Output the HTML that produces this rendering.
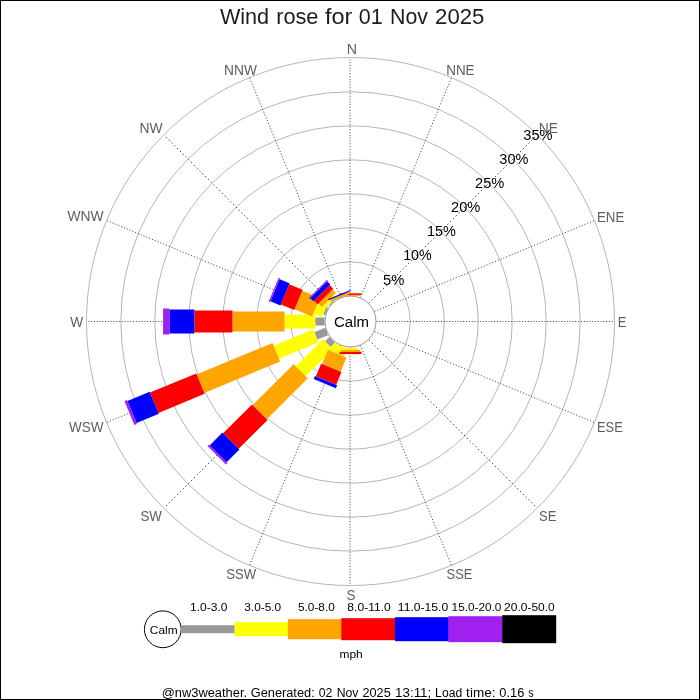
<!DOCTYPE html>
<html lang="en"><head><meta charset="utf-8"><title>Wind rose for 01 Nov 2025</title>
<style>html,body{margin:0;padding:0;background:#fff;width:700px;height:700px;overflow:hidden;}svg{display:block;will-change:transform;}text{font-family:"Liberation Sans",sans-serif;white-space:pre;}</style></head><body>
<svg width="700" height="700" viewBox="0 0 700 700">
<rect x="0" y="0" width="700" height="700" fill="#ffffff"/>
<g fill="none" stroke="#adadad" stroke-width="0.9">
<circle cx="350.5" cy="321.5" r="59.70"/>
<circle cx="350.5" cy="321.5" r="93.70"/>
<circle cx="350.5" cy="321.5" r="127.70"/>
<circle cx="350.5" cy="321.5" r="161.70"/>
<circle cx="350.5" cy="321.5" r="195.70"/>
<circle cx="350.5" cy="321.5" r="229.70"/>
<circle cx="350.5" cy="321.5" r="264.00"/>
</g>
<line x1="350.00" y1="295.50" x2="350.00" y2="58.00" stroke="#2b2b2b" stroke-width="0.9" stroke-dasharray="1.00 1.80"/>
<line x1="360.45" y1="297.48" x2="451.34" y2="78.06" stroke="#2b2b2b" stroke-width="0.9" stroke-dasharray="1.08 1.95"/>
<line x1="368.88" y1="303.12" x2="536.82" y2="135.18" stroke="#2b2b2b" stroke-width="0.9" stroke-dasharray="1.41 2.55"/>
<line x1="374.52" y1="311.55" x2="593.94" y2="220.66" stroke="#2b2b2b" stroke-width="0.9" stroke-dasharray="1.08 1.95"/>
<line x1="376.50" y1="321.50" x2="614.00" y2="321.50" stroke="#2b2b2b" stroke-width="0.9" stroke-dasharray="1.00 1.80"/>
<line x1="374.52" y1="331.45" x2="593.94" y2="422.34" stroke="#2b2b2b" stroke-width="0.9" stroke-dasharray="1.08 1.95"/>
<line x1="368.88" y1="339.88" x2="536.82" y2="507.82" stroke="#2b2b2b" stroke-width="0.9" stroke-dasharray="1.41 2.55"/>
<line x1="360.45" y1="345.52" x2="451.34" y2="564.94" stroke="#2b2b2b" stroke-width="0.9" stroke-dasharray="1.08 1.95"/>
<line x1="350.00" y1="347.50" x2="350.00" y2="585.00" stroke="#2b2b2b" stroke-width="0.9" stroke-dasharray="1.00 1.80"/>
<line x1="340.55" y1="345.52" x2="249.66" y2="564.94" stroke="#2b2b2b" stroke-width="0.9" stroke-dasharray="1.08 1.95"/>
<line x1="332.12" y1="339.88" x2="164.18" y2="507.82" stroke="#2b2b2b" stroke-width="0.9" stroke-dasharray="1.41 2.55"/>
<line x1="326.48" y1="331.45" x2="107.06" y2="422.34" stroke="#2b2b2b" stroke-width="0.9" stroke-dasharray="1.08 1.95"/>
<line x1="324.50" y1="321.50" x2="87.00" y2="321.50" stroke="#2b2b2b" stroke-width="0.9" stroke-dasharray="1.00 1.80"/>
<line x1="326.48" y1="311.55" x2="107.06" y2="220.66" stroke="#2b2b2b" stroke-width="0.9" stroke-dasharray="1.08 1.95"/>
<line x1="332.12" y1="303.12" x2="164.18" y2="135.18" stroke="#2b2b2b" stroke-width="0.9" stroke-dasharray="1.41 2.55"/>
<line x1="340.55" y1="297.48" x2="249.66" y2="78.06" stroke="#2b2b2b" stroke-width="0.9" stroke-dasharray="1.08 1.95"/>
<rect x="-4.0" y="-37.50" width="8" height="11.50" fill="#999999" transform="translate(350.5 321.5) rotate(247.5)"/>
<rect x="-7.0" y="-80.30" width="14" height="42.80" fill="#ffff00" transform="translate(350.5 321.5) rotate(247.5)"/>
<rect x="-10.0" y="-162.40" width="20" height="82.10" fill="#ffa500" transform="translate(350.5 321.5) rotate(247.5)"/>
<rect x="-11.0" y="-212.40" width="22" height="50.00" fill="#ff0000" transform="translate(350.5 321.5) rotate(247.5)"/>
<rect x="-12.0" y="-236.50" width="24" height="24.10" fill="#0000ff" transform="translate(350.5 321.5) rotate(247.5)"/>
<rect x="-13.0" y="-239.30" width="26" height="2.80" fill="#a020f0" transform="translate(350.5 321.5) rotate(247.5)"/>
<rect x="-4.0" y="-32.00" width="8" height="6.00" fill="#999999" transform="translate(350.5 321.5) rotate(225.0)"/>
<rect x="-7.0" y="-70.40" width="14" height="38.40" fill="#ffff00" transform="translate(350.5 321.5) rotate(225.0)"/>
<rect x="-10.0" y="-128.30" width="20" height="57.90" fill="#ffa500" transform="translate(350.5 321.5) rotate(225.0)"/>
<rect x="-11.0" y="-169.10" width="22" height="40.80" fill="#ff0000" transform="translate(350.5 321.5) rotate(225.0)"/>
<rect x="-12.0" y="-187.20" width="24" height="18.10" fill="#0000ff" transform="translate(350.5 321.5) rotate(225.0)"/>
<rect x="-13.0" y="-189.20" width="26" height="2.00" fill="#a020f0" transform="translate(350.5 321.5) rotate(225.0)"/>
<rect x="-4.0" y="-35.20" width="8" height="9.20" fill="#999999" transform="translate(350.5 321.5) rotate(270.0)"/>
<rect x="-7.0" y="-66.00" width="14" height="30.80" fill="#ffff00" transform="translate(350.5 321.5) rotate(270.0)"/>
<rect x="-10.0" y="-118.00" width="20" height="52.00" fill="#ffa500" transform="translate(350.5 321.5) rotate(270.0)"/>
<rect x="-11.0" y="-156.10" width="22" height="38.10" fill="#ff0000" transform="translate(350.5 321.5) rotate(270.0)"/>
<rect x="-12.0" y="-181.10" width="24" height="25.00" fill="#0000ff" transform="translate(350.5 321.5) rotate(270.0)"/>
<rect x="-13.0" y="-187.40" width="26" height="6.30" fill="#a020f0" transform="translate(350.5 321.5) rotate(270.0)"/>
<rect x="-4.0" y="-28.00" width="8" height="2.00" fill="#999999" transform="translate(350.5 321.5) rotate(292.5)"/>
<rect x="-7.0" y="-37.50" width="14" height="9.50" fill="#ffff00" transform="translate(350.5 321.5) rotate(292.5)"/>
<rect x="-10.0" y="-56.30" width="20" height="18.80" fill="#ffa500" transform="translate(350.5 321.5) rotate(292.5)"/>
<rect x="-11.0" y="-70.90" width="22" height="14.60" fill="#ff0000" transform="translate(350.5 321.5) rotate(292.5)"/>
<rect x="-12.0" y="-81.70" width="24" height="10.80" fill="#0000ff" transform="translate(350.5 321.5) rotate(292.5)"/>
<rect x="-13.0" y="-83.20" width="26" height="1.50" fill="#a020f0" transform="translate(350.5 321.5) rotate(292.5)"/>
<rect x="-7.0" y="-34.70" width="14" height="8.70" fill="#ffff00" transform="translate(350.5 321.5) rotate(202.5)"/>
<rect x="-10.0" y="-50.20" width="20" height="15.50" fill="#ffa500" transform="translate(350.5 321.5) rotate(202.5)"/>
<rect x="-11.0" y="-63.90" width="22" height="13.70" fill="#ff0000" transform="translate(350.5 321.5) rotate(202.5)"/>
<rect x="-12.0" y="-67.20" width="24" height="3.30" fill="#0000ff" transform="translate(350.5 321.5) rotate(202.5)"/>
<rect x="-4.0" y="-27.00" width="8" height="1.00" fill="#999999" transform="translate(350.5 321.5) rotate(315.0)"/>
<rect x="-7.0" y="-30.50" width="14" height="3.50" fill="#ffff00" transform="translate(350.5 321.5) rotate(315.0)"/>
<rect x="-10.0" y="-35.40" width="20" height="4.90" fill="#ffa500" transform="translate(350.5 321.5) rotate(315.0)"/>
<rect x="-11.0" y="-40.50" width="22" height="5.10" fill="#ff0000" transform="translate(350.5 321.5) rotate(315.0)"/>
<rect x="-12.0" y="-45.00" width="24" height="4.50" fill="#0000ff" transform="translate(350.5 321.5) rotate(315.0)"/>
<rect x="-13.0" y="-46.10" width="26" height="1.10" fill="#a020f0" transform="translate(350.5 321.5) rotate(315.0)"/>
<rect x="-7.0" y="-28.50" width="14" height="2.10" fill="#ffff00" transform="translate(350.5 321.5) rotate(180.0)"/>
<rect x="-10.0" y="-30.50" width="20" height="2.00" fill="#ffa500" transform="translate(350.5 321.5) rotate(180.0)"/>
<rect x="-11.0" y="-32.60" width="22" height="2.10" fill="#ff0000" transform="translate(350.5 321.5) rotate(180.0)"/>
<rect x="-10.0" y="-26.60" width="20" height="1.00" fill="#ffa500" transform="translate(350.5 321.5) rotate(0.0)"/>
<rect x="-11.0" y="-28.20" width="22" height="1.60" fill="#ff0000" transform="translate(350.5 321.5) rotate(0.0)"/>
<rect x="-10.0" y="-28.05" width="20" height="2.25" fill="#ffa500" transform="translate(350.5 321.5) rotate(337.5)"/>
<rect x="-12.0" y="-29.20" width="24" height="1.15" fill="#0000ff" transform="translate(350.5 321.5) rotate(337.5)"/>
<circle cx="350.5" cy="321.5" r="25.5" fill="#ffffff" stroke="#8a8a8a" stroke-width="0.9"/>
<text y="326.60" font-size="14.52" fill="#000"><tspan x="334.04" textLength="34.95" lengthAdjust="spacingAndGlyphs">Calm</tspan></text>
<text y="23.60" font-size="21.20" fill="#1c1c1c"><tspan x="219.91" textLength="49.21" lengthAdjust="spacingAndGlyphs">Wind</tspan> <tspan x="276.17" textLength="42.30" lengthAdjust="spacingAndGlyphs">rose</tspan> <tspan x="324.97" textLength="27.49" lengthAdjust="spacingAndGlyphs">for</tspan> <tspan x="358.82" textLength="23.95" lengthAdjust="spacingAndGlyphs">01</tspan> <tspan x="390.03" textLength="37.92" lengthAdjust="spacingAndGlyphs">Nov</tspan> <tspan x="435.09" textLength="49.24" lengthAdjust="spacingAndGlyphs">2025</tspan></text>
<text y="54.00" font-size="14.84" fill="#5e5e5e"><tspan x="346.68" textLength="10.28" lengthAdjust="spacingAndGlyphs">N</tspan></text>
<text y="74.50" font-size="14.84" fill="#5e5e5e"><tspan x="446.20" textLength="28.38" lengthAdjust="spacingAndGlyphs">NNE</tspan></text>
<text y="132.70" font-size="14.84" fill="#5e5e5e"><tspan x="538.77" textLength="19.12" lengthAdjust="spacingAndGlyphs">NE</tspan></text>
<text y="221.50" font-size="14.84" fill="#5e5e5e"><tspan x="596.90" textLength="27.47" lengthAdjust="spacingAndGlyphs">ENE</tspan></text>
<text y="327.10" font-size="14.84" fill="#5e5e5e"><tspan x="617.63" textLength="8.74" lengthAdjust="spacingAndGlyphs">E</tspan></text>
<text y="431.80" font-size="14.84" fill="#5e5e5e"><tspan x="596.94" textLength="25.81" lengthAdjust="spacingAndGlyphs">ESE</tspan></text>
<text y="521.00" font-size="14.84" fill="#5e5e5e"><tspan x="538.91" textLength="17.46" lengthAdjust="spacingAndGlyphs">SE</tspan></text>
<text y="579.00" font-size="14.84" fill="#5e5e5e"><tspan x="446.62" textLength="25.74" lengthAdjust="spacingAndGlyphs">SSE</tspan></text>
<text y="599.70" font-size="14.84" fill="#5e5e5e"><tspan x="346.39" textLength="8.92" lengthAdjust="spacingAndGlyphs">S</tspan></text>
<text y="579.00" font-size="14.84" fill="#5e5e5e"><tspan x="226.21" textLength="29.84" lengthAdjust="spacingAndGlyphs">SSW</tspan></text>
<text y="521.00" font-size="14.84" fill="#5e5e5e"><tspan x="140.40" textLength="21.45" lengthAdjust="spacingAndGlyphs">SW</tspan></text>
<text y="431.70" font-size="14.84" fill="#5e5e5e"><tspan x="68.94" textLength="34.61" lengthAdjust="spacingAndGlyphs">WSW</tspan></text>
<text y="327.10" font-size="14.84" fill="#5e5e5e"><tspan x="70.24" textLength="12.91" lengthAdjust="spacingAndGlyphs">W</tspan></text>
<text y="221.40" font-size="14.84" fill="#5e5e5e"><tspan x="67.44" textLength="36.11" lengthAdjust="spacingAndGlyphs">WNW</tspan></text>
<text y="132.50" font-size="14.84" fill="#5e5e5e"><tspan x="139.46" textLength="23.08" lengthAdjust="spacingAndGlyphs">NW</tspan></text>
<text y="74.50" font-size="14.84" fill="#5e5e5e"><tspan x="224.07" textLength="32.77" lengthAdjust="spacingAndGlyphs">NNW</tspan></text>
<text y="284.60" font-size="14.42" fill="#000"><tspan x="383.01" textLength="21.32" lengthAdjust="spacingAndGlyphs">5%</tspan></text>
<text y="260.47" font-size="14.42" fill="#000"><tspan x="403.15" textLength="28.60" lengthAdjust="spacingAndGlyphs">10%</tspan></text>
<text y="236.34" font-size="14.42" fill="#000"><tspan x="427.03" textLength="28.92" lengthAdjust="spacingAndGlyphs">15%</tspan></text>
<text y="212.21" font-size="14.42" fill="#000"><tspan x="451.08" textLength="29.26" lengthAdjust="spacingAndGlyphs">20%</tspan></text>
<text y="188.08" font-size="14.42" fill="#000"><tspan x="475.12" textLength="29.26" lengthAdjust="spacingAndGlyphs">25%</tspan></text>
<text y="163.95" font-size="14.42" fill="#000"><tspan x="499.35" textLength="29.07" lengthAdjust="spacingAndGlyphs">30%</tspan></text>
<text y="139.82" font-size="14.42" fill="#000"><tspan x="523.28" textLength="29.28" lengthAdjust="spacingAndGlyphs">35%</tspan></text>
<circle cx="162.8" cy="629.3" r="18.4" fill="#fff" stroke="#000" stroke-width="1"/>
<text y="633.90" font-size="11.31" fill="#000"><tspan x="149.80" textLength="27.79" lengthAdjust="spacingAndGlyphs">Calm</tspan></text>
<rect x="181.00" y="625.2" width="53.90" height="8" fill="#999999"/>
<rect x="234.50" y="622.2" width="53.80" height="14" fill="#ffff00"/>
<rect x="287.90" y="619.2" width="53.80" height="20" fill="#ffa500"/>
<rect x="341.30" y="618.2" width="54.10" height="22" fill="#ff0000"/>
<rect x="395.00" y="617.2" width="53.80" height="24" fill="#0000ff"/>
<rect x="448.40" y="616.2" width="54.20" height="26" fill="#a020f0"/>
<rect x="502.20" y="615.2" width="54.00" height="28" fill="#000000"/>
<text y="611.00" font-size="11.31" fill="#000"><tspan x="190.09" textLength="37.38" lengthAdjust="spacingAndGlyphs">1.0-3.0</tspan></text>
<text y="611.00" font-size="11.31" fill="#000"><tspan x="244.25" textLength="36.91" lengthAdjust="spacingAndGlyphs">3.0-5.0</tspan></text>
<text y="611.00" font-size="11.31" fill="#000"><tspan x="297.92" textLength="36.94" lengthAdjust="spacingAndGlyphs">5.0-8.0</tspan></text>
<text y="611.00" font-size="11.31" fill="#000"><tspan x="347.39" textLength="43.38" lengthAdjust="spacingAndGlyphs">8.0-11.0</tspan></text>
<text y="611.00" font-size="11.31" fill="#000"><tspan x="397.89" textLength="50.37" lengthAdjust="spacingAndGlyphs">11.0-15.0</tspan></text>
<text y="611.00" font-size="11.31" fill="#000"><tspan x="451.60" textLength="49.76" lengthAdjust="spacingAndGlyphs">15.0-20.0</tspan></text>
<text y="611.00" font-size="11.31" fill="#000"><tspan x="504.10" textLength="50.67" lengthAdjust="spacingAndGlyphs">20.0-50.0</tspan></text>
<text y="657.60" font-size="11.31" fill="#000"><tspan x="339.51" textLength="23.27" lengthAdjust="spacingAndGlyphs">mph</tspan></text>
<text y="696.90" font-size="12.01" fill="#000"><tspan x="161.70" textLength="85.42" lengthAdjust="spacingAndGlyphs">@nw3weather.</tspan> <tspan x="250.78" textLength="63.92" lengthAdjust="spacingAndGlyphs">Generated:</tspan> <tspan x="318.74" textLength="13.66" lengthAdjust="spacingAndGlyphs">02</tspan> <tspan x="336.65" textLength="21.76" lengthAdjust="spacingAndGlyphs">Nov</tspan> <tspan x="362.50" textLength="28.25" lengthAdjust="spacingAndGlyphs">2025</tspan> <tspan x="395.08" textLength="36.14" lengthAdjust="spacingAndGlyphs">13:11;</tspan> <tspan x="435.11" textLength="27.08" lengthAdjust="spacingAndGlyphs">Load</tspan> <tspan x="466.14" textLength="29.29" lengthAdjust="spacingAndGlyphs">time:</tspan> <tspan x="499.39" textLength="24.88" lengthAdjust="spacingAndGlyphs">0.16</tspan> <tspan x="528.35" textLength="5.44" lengthAdjust="spacingAndGlyphs">s</tspan></text>
<rect x="0.5" y="0.5" width="699" height="699" fill="none" stroke="#000" stroke-width="1"/>
</svg></body></html>
